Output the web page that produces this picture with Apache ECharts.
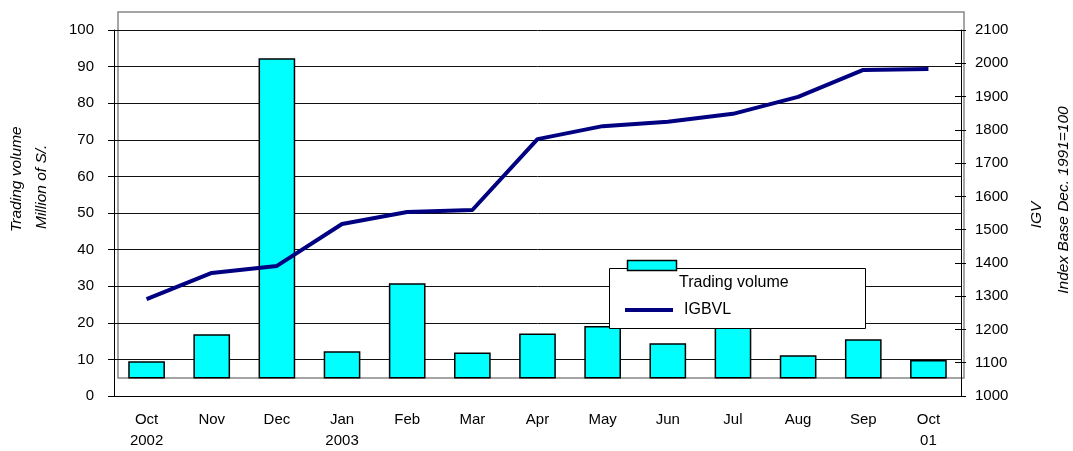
<!DOCTYPE html>
<html>
<head>
<meta charset="utf-8">
<script src="https://cdn.jsdelivr.net/npm/echarts@6/dist/echarts.min.js"></script>
<style>
  html, body { margin: 0; padding: 0; background: #fff; }
  #chart { width: 1073px; height: 451px; }
</style>
</head>
<body>
<div id="chart"></div>
<script>
// data
const months = ['Oct\n2002', 'Nov', 'Dec', 'Jan\n2003', 'Feb', 'Mar', 'Apr', 'May', 'Jun', 'Jul', 'Aug', 'Sep', 'Oct\n01'];
const tradingVolume = [9.3, 16.7, 92.1, 12.0, 30.6, 11.7, 16.9, 18.9, 14.2, 19.5, 10.9, 15.3, 9.6];
const igbvl = [1291, 1370, 1391, 1517, 1553, 1559, 1772, 1811, 1824, 1848, 1899, 1980, 1983];
const barBase = 5; // bars in the original rise from 5, not 0

const FONT = 'Liberation Sans, Arial, sans-serif';

const chart = echarts.init(document.getElementById('chart'));

const renderVolumeBar = (params, api) => {
  const top = api.coord([api.value(0), api.value(1)]);
  const base = api.coord([api.value(0), barBase]);
  const w = api.size([1, 0])[0] * 0.54;
  return {
    type: 'rect',
    shape: { x: top[0] - w / 2, y: top[1], width: w, height: base[1] - top[1] },
    style: { fill: '#00ffff', stroke: '#000', lineWidth: 1.5 },
  };
};

const option = {
  backgroundColor: '#fff',
  animation: false,
  grid: { left: 114, right: 112, top: 30, bottom: 55, outerBoundsMode: 'none', containLabel: false },
  xAxis: {
    type: 'category',
    data: months,
    boundaryGap: true,
    axisLine: { lineStyle: { color: '#000', width: 1 } },
    axisTick: { show: false },
    axisLabel: { color: '#000', fontFamily: FONT, fontSize: 15, lineHeight: 21, margin: 13 },
  },
  yAxis: [
    {
      type: 'value', min: 0, max: 100, interval: 10,
      axisLine: { show: true, lineStyle: { color: '#000' } },
      axisTick: { show: true, length: 6, lineStyle: { color: '#000' } },
      axisLabel: { color: '#000', fontFamily: FONT, fontSize: 15, margin: 20 },
      splitLine: { show: true, lineStyle: { color: '#111', width: 1 } },
    },
    {
      type: 'value', min: 1000, max: 2100, interval: 100, position: 'right',
      axisLine: { show: true, lineStyle: { color: '#000' } },
      axisTick: { show: true, length: 5, lineStyle: { color: '#000' } },
      axisLabel: { color: '#000', fontFamily: FONT, fontSize: 15, margin: 14, formatter: (v) => String(v) },
      splitLine: { show: false },
    },
    {
      // inner half of the cross ticks on the right axis
      type: 'value', min: 1000, max: 2100, interval: 100, position: 'right',
      axisLine: { show: false },
      axisTick: { show: true, inside: true, length: 6, lineStyle: { color: '#000' } },
      axisLabel: { show: false },
      splitLine: { show: false },
    },
  ],
  series: [
    {
      name: 'Trading volume',
      type: 'custom',
      xAxisIndex: 0,
      yAxisIndex: 0,
      renderItem: renderVolumeBar,
      encode: { x: 0, y: 1 },
      data: tradingVolume.map((v, i) => [i, v]),
      z: 3,
    },
    {
      name: 'IGBVL',
      type: 'line',
      yAxisIndex: 1,
      data: igbvl,
      showSymbol: false,
      symbol: 'none',
      lineStyle: { color: '#000080', width: 4 },
      z: 4,
    },
  ],
  graphic: [
    // grey plot frame
    {
      type: 'rect', z: 0,
      shape: { x: 118, y: 12, width: 846, height: 366 },
      style: { fill: 'none', stroke: '#888', lineWidth: 1.5 },
    },
    // axis titles
    {
      type: 'text', x: 17, y: 232, rotation: Math.PI / 2, z: 10,
      style: { text: 'Trading volume', font: 'italic 15.5px ' + FONT, fill: '#000', align: 'left', verticalAlign: 'middle' },
    },
    {
      type: 'text', x: 42, y: 229, rotation: Math.PI / 2, z: 10,
      style: { text: 'Million of S/.', font: 'italic 15.5px ' + FONT, fill: '#000', align: 'left', verticalAlign: 'middle' },
    },
    {
      type: 'text', x: 1037, y: 215, rotation: Math.PI / 2, z: 10,
      style: { text: 'IGV', font: 'italic 15.5px ' + FONT, fill: '#000', align: 'center', verticalAlign: 'middle' },
    },
    {
      type: 'text', x: 1064, y: 200, rotation: Math.PI / 2, z: 10,
      style: { text: 'Index Base Dec. 1991=100', font: 'italic 15.5px ' + FONT, fill: '#000', align: 'center', verticalAlign: 'middle' },
    },
    // legend
    {
      type: 'rect', z: 100,
      shape: { x: 609.5, y: 268.5, width: 256, height: 60 },
      style: { fill: '#fff', stroke: '#000', lineWidth: 1 },
    },
    {
      type: 'rect', z: 101,
      shape: { x: 627.5, y: 260.5, width: 49, height: 10 },
      style: { fill: '#00ffff', stroke: '#000', lineWidth: 1.5 },
    },
    {
      type: 'text', x: 679, y: 283, z: 101,
      style: { text: 'Trading volume', font: '16px ' + FONT, fill: '#000', verticalAlign: 'middle' },
    },
    {
      type: 'line', z: 101,
      shape: { x1: 625, y1: 310, x2: 673, y2: 310 },
      style: { stroke: '#000080', lineWidth: 4 },
    },
    {
      type: 'text', x: 684, y: 310, z: 101,
      style: { text: 'IGBVL', font: '16px ' + FONT, fill: '#000', verticalAlign: 'middle' },
    },
  ],
};

chart.setOption(option);
</script>
</body>
</html>
